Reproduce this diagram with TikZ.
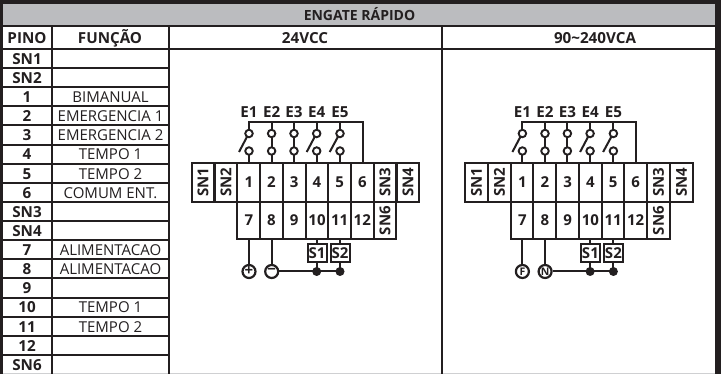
\documentclass[tikz,border=0pt]{standalone}
\usepackage{fontspec}
\setmainfont{Open Sans}
\definecolor{ink}{HTML}{231F20}
\definecolor{band}{HTML}{BBBCBF}
\newcommand{\hdfont}{\fontsize{15.2}{16}\selectfont\bfseries}
\newcommand{\titlefont}{\fontsize{14}{16}\selectfont\bfseries}
\newcommand{\rowfont}{\fontsize{15}{16}\selectfont}
\newcommand{\cellfont}{\fontsize{15}{16}\selectfont\bfseries}
\newcommand{\symfont}{\fontsize{15}{15}\selectfont\bfseries}
\tikzset{
  grid/.style={draw=ink,line width=2pt},
  wire/.style={draw=ink,line width=2pt},
  txt/.style={text=ink,inner sep=0pt,anchor=center,text height=10.8pt,text depth=0pt},
  pinlabel/.style={txt,font=\hdfont},
  funlabel/.style={txt,font=\rowfont},
  cell/.style={txt,font=\cellfont},
  contact/.style={circle,draw=ink,line width=1.9pt,fill=white,minimum size=7.5pt,inner sep=0pt},
  sup/.style={circle,draw=ink,line width=2.2pt,fill=white,minimum size=13pt,inner sep=0pt,text=ink,font=\fontsize{10.5}{10}\selectfont\bfseries},
  dotj/.style={circle,fill=ink,minimum size=9pt,inner sep=0pt},
  termbox/.style={draw=ink,line width=2pt,fill=white,inner sep=0pt,minimum width=19pt,minimum height=18.5pt,text=ink,font=\cellfont,text height=10.8pt,text depth=0pt},
}
\newcommand{\wiring}[3]{%
  \begin{scope}[xshift=#1pt]
    \foreach \xa in {191.7,214.5,237.3,260,282.8,305.5,328.3,351,373.7,396.5}{
      \draw[grid] (\xa,162.7) rectangle ++(22.75,39);
    }
    \foreach \xa in {237.3,260,282.8,305.5,328.3,351,373.7}{
      \draw[grid] (\xa,201.7) rectangle ++(22.75,37.5);
    }
    \node[cell,rotate=90] at (203,182) {SN1};
    \node[cell,rotate=90] at (226,182) {SN2};
    \foreach \n/\xa in {1/249,2/271.5,3/294.2,4/317,5/339.7,6/362.3}{
      \node[cell] at (\xa,182.5) {\n};
    }
    \node[cell,rotate=90] at (385,182) {SN3};
    \node[cell,rotate=90] at (408,182) {SN4};
    \foreach \n/\xa in {7/249,8/271.5,9/294.2,10/317,11/339.7,12/362.3}{
      \node[cell] at (\xa,220.5) {\n};
    }
    \node[cell,rotate=90] at (385,220.5) {SN6};
    \foreach \n/\xa in {1/249,2/271.6,3/294,4/316.7,5/340}{
      \node[pinlabel] at (\xa,112.5) {E\n};
    }
    \draw[wire] (249,133) -- (249,121.7) -- (362.7,121.7) -- (362.7,162.7);
    \foreach \xa in {271.6,294,316.7,340}{ \draw[wire] (\xa,121.7) -- (\xa,133); }
    \foreach \xa in {249,271.6,294,316.7,340}{ \draw[wire] (\xa,151) -- (\xa,162.7); }
    \draw[wire] (271.6,133) -- (271.6,151);
    \draw[wire] (294,133) -- (294,151);
    \draw[wire] (249,133) -- (239,152);
    \draw[wire] (316.7,133) -- (306.7,152);
    \draw[wire] (340,133) -- (329.7,152);
    \foreach \xa in {249,271.6,294,316.7,340}{
      \node[contact] at (\xa,133.5) {};
      \node[contact] at (\xa,151) {};
    }
    \draw[wire] (249,239) -- (249,265);
    \draw[wire] (271.7,239) -- (271.7,265);
    \node[sup] at (249,271.5) {#2};
    \node[sup] (neg) at (271.7,271.5) {#3};
    \draw[wire] (316.7,239) -- (316.7,271.5);
    \draw[wire] (340,239) -- (340,271.5);
    \draw[wire] (neg) -- (340,271.5);
    \node[termbox] at (317,252.8) {S1};
    \node[termbox] at (340,252.8) {S2};
    \node[dotj] at (316.7,271.5) {};
    \node[dotj] at (340,271.5) {};
  \end{scope}
}
\begin{document}
\begin{tikzpicture}[x=1pt,y=-1pt]
  \useasboundingbox (0,0) rectangle (721,374);
  \fill[white] (0,0) rectangle (721,374);
  \fill[band] (3,4.5) rectangle (715,26.5);
  \fill[ink] (0,0) rectangle (721,4.5);
  \fill[ink] (0,0) rectangle (3,374);
  \fill[ink] (715,0) rectangle (721,374);
  \fill[band!70!white] (3,373) rectangle (715,374);
  \node[txt,font=\titlefont] at (359.5,15.5) {ENGATE RÁPIDO};
  \draw[grid] (3,26.5) -- (715,26.5);
  \draw[grid] (3,49) -- (715,49);
  \draw[grid] (52,26.5) -- (52,374);
  \draw[grid] (169,26.5) -- (169,374);
  \draw[grid] (442,26.5) -- (442,374);
  \node[pinlabel] at (27,38) {PINO};
  \node[pinlabel] at (110,38) {FUNÇÃO};
  \node[pinlabel] at (305,38) {24VCC};
  \node[pinlabel] at (595,38) {90\textasciitilde 240VCA};
  \foreach \i in {1,...,16}{
    \draw[grid] (3,49+\i*19.12) -- (169,49+\i*19.12);
  }
  \foreach \t/\f [count=\i from 0] in {SN1/,SN2/,1/BIMANUAL,2/EMERGENCIA 1,3/EMERGENCIA 2,4/TEMPO 1,5/TEMPO 2,6/COMUM ENT.,SN3/,SN4/,7/ALIMENTACAO,8/ALIMENTACAO,9/,10/TEMPO 1,11/TEMPO 2,12/,SN6/}{
    \node[pinlabel] at (27,59+\i*19.12) {\t};
    \node[funlabel] at (110.5,59+\i*19.12) {\f};
  }
  \wiring{0}{\symfont +}{\symfont \textminus}
  \wiring{273.4}{F}{N}
\end{tikzpicture}
\end{document}
